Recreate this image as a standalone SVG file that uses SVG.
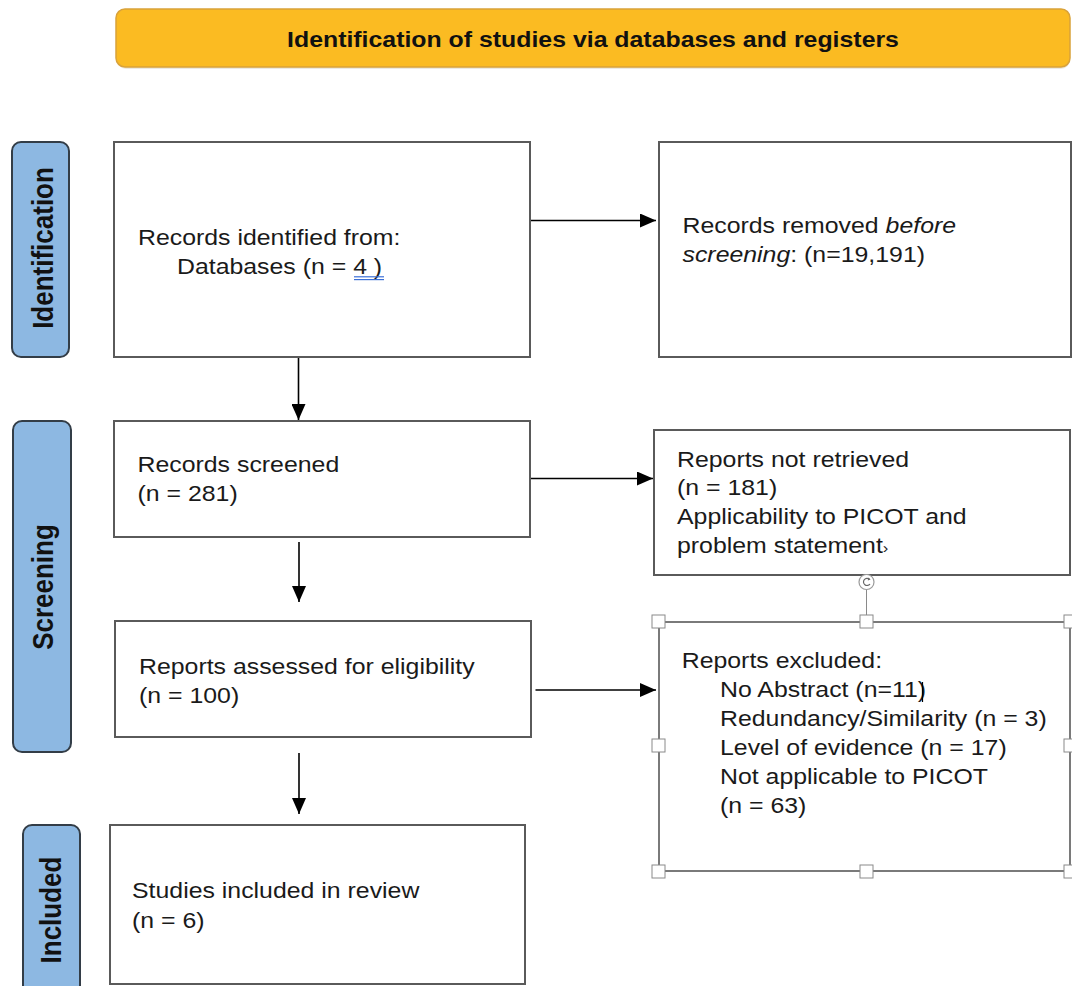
<svg xmlns="http://www.w3.org/2000/svg" width="1072" height="986" viewBox="0 0 1072 986">
<style>
.t{font-family:"Liberation Sans",Arial,sans-serif;font-size:22px;fill:#1a1a1a}
.hd{font-family:"Liberation Sans",Arial,sans-serif;font-size:22px;font-weight:bold;fill:#111}
.lbl{font-family:"Liberation Sans",Arial,sans-serif;font-size:26px;font-weight:bold;fill:#111}
.box{fill:#fff;stroke:#5a5a5a;stroke-width:2}
.sel{fill:#fff;stroke:#7a7a7a;stroke-width:2}
.side{fill:#8db8e2;stroke:#333d47;stroke-width:2}
.conn{stroke:#000;stroke-width:1.6;fill:none}
.hdl{fill:#fff;stroke:#8a8a8a;stroke-width:1}
</style>
<defs>
<marker id="ah" viewBox="0 0 16 14" markerWidth="16" markerHeight="14" refX="16" refY="7" orient="auto" markerUnits="userSpaceOnUse">
<path d="M0,0 L16,7 L0,14 z" fill="#000"/>
</marker>
</defs>
<rect width="1072" height="986" fill="#fff"/>

<g id="header">
<rect x="117" y="11" width="953" height="58" rx="9" fill="#e0dccf" opacity="0.6"/>
<rect x="116" y="9" width="954" height="58" rx="9" fill="#fbbb22" stroke="#d9a23a" stroke-width="1.5"/>
<text class="hd" text-anchor="middle" transform="translate(593 46.5) scale(1.13 1)">Identification of studies via databases and registers</text>
</g>

<g id="label-identification">
<rect class="side" x="12" y="142" width="57" height="215" rx="9"/>
<text class="lbl" text-anchor="middle" transform="translate(53 248) scale(1.13 1) rotate(-90)">Identification</text>
</g>
<g id="label-screening">
<rect class="side" x="13" y="421" width="58" height="331" rx="9"/>
<text class="lbl" text-anchor="middle" transform="translate(53 587) scale(1.13 1) rotate(-90)">Screening</text>
</g>
<g id="label-included">
<rect class="side" x="23" y="825" width="57" height="175" rx="9"/>
<text class="lbl" text-anchor="middle" transform="translate(61 910) scale(1.13 1) rotate(-90)">Included</text>
</g>

<g id="records-identified">
<rect class="box" x="114" y="142" width="416" height="215"/>
<text class="t" transform="translate(138 245) scale(1.13 1)"><tspan x="0" y="0">Records identified from:</tspan><tspan x="34.5" y="29">Databases (n = 4 )</tspan></text>
<line x1="354" y1="276.8" x2="384" y2="276.8" stroke="#3b6fd6" stroke-width="1.2"/>
<line x1="354" y1="279.6" x2="384" y2="279.6" stroke="#3b6fd6" stroke-width="1.2"/>
</g>

<g id="records-removed">
<rect class="box" x="659" y="142" width="412" height="215"/>
<text class="t" transform="translate(682.5 233) scale(1.13 1)"><tspan x="0" y="0">Records removed <tspan font-style="italic">before</tspan></tspan><tspan x="0" y="29"><tspan font-style="italic">screening</tspan>: (n=19,191)</tspan></text>
</g>

<g id="records-screened">
<rect class="box" x="114" y="421" width="416" height="116"/>
<text class="t" transform="translate(137.5 471.5) scale(1.13 1)"><tspan x="0" y="0">Records screened</tspan><tspan x="0" y="30">(n = 281)</tspan></text>
</g>

<g id="reports-not-retrieved">
<rect class="box" x="654" y="430" width="416" height="145"/>
<text class="t" transform="translate(677 466.5) scale(1.13 1)"><tspan x="0" y="0">Reports not retrieved</tspan><tspan x="0" y="28.8">(n = 181)</tspan><tspan x="0" y="57.6">Applicability to PICOT and</tspan><tspan x="0" y="86.4">problem statement<tspan font-size="15">›</tspan></tspan></text>
</g>

<g id="reports-assessed">
<rect class="box" x="115" y="621" width="416" height="116"/>
<text class="t" transform="translate(139 674) scale(1.13 1)"><tspan x="0" y="0">Reports assessed for eligibility</tspan><tspan x="0" y="29.5">(n = 100)</tspan></text>
</g>

<g id="reports-excluded">
<line x1="866.5" y1="589" x2="866.5" y2="621" stroke="#8a8a8a" stroke-width="1"/>
<circle cx="866.5" cy="582" r="7.5" fill="#fff" stroke="#9a9a9a" stroke-width="1.2"/>
<path d="M869.5,579.2 A3.6,3.6 0 1 0 870,584" fill="none" stroke="#666" stroke-width="1.2"/>
<path d="M868.2,577.6 L870.6,579.6 L867.8,580.6 z" fill="#666"/>
<rect class="sel" x="659" y="622" width="411" height="249"/>
<text class="t" transform="translate(681.7 668) scale(1.13 1)"><tspan x="0" y="0">Reports excluded:</tspan><tspan x="33.9" y="29">No Abstract (n=11)</tspan><tspan x="33.9" y="58">Redundancy/Similarity (n = 3)</tspan><tspan x="33.9" y="87">Level of evidence (n = 17)</tspan><tspan x="33.9" y="116">Not applicable to PICOT</tspan><tspan x="33.9" y="145">(n = 63)</tspan></text>
<line x1="922.5" y1="682" x2="922.5" y2="702" stroke="#000" stroke-width="1.2"/>
<rect class="hdl" x="652" y="615" width="13" height="13"/>
<rect class="hdl" x="860" y="615" width="13" height="13"/>
<rect class="hdl" x="1064" y="615" width="13" height="13"/>
<rect class="hdl" x="652" y="739" width="13" height="13"/>
<rect class="hdl" x="1064" y="739" width="13" height="13"/>
<rect class="hdl" x="652" y="865" width="13" height="13"/>
<rect class="hdl" x="860" y="865" width="13" height="13"/>
<rect class="hdl" x="1064" y="865" width="13" height="13"/>
</g>

<g id="studies-included">
<rect class="box" x="110" y="825" width="415" height="159"/>
<text class="t" transform="translate(132 898) scale(1.13 1)"><tspan x="0" y="0">Studies included in review</tspan><tspan x="0" y="30">(n = 6)</tspan></text>
</g>

<g id="connectors">
<path class="conn" d="M531 220.5 H656" marker-end="url(#ah)"/>
<path class="conn" d="M298.5 358 V420" marker-end="url(#ah)"/>
<path class="conn" d="M531 478.5 H653" marker-end="url(#ah)"/>
<path class="conn" d="M299 542 V602" marker-end="url(#ah)"/>
<path class="conn" d="M535.5 690 H656" marker-end="url(#ah)"/>
<path class="conn" d="M299 753 V814" marker-end="url(#ah)"/>
</g>
</svg>
